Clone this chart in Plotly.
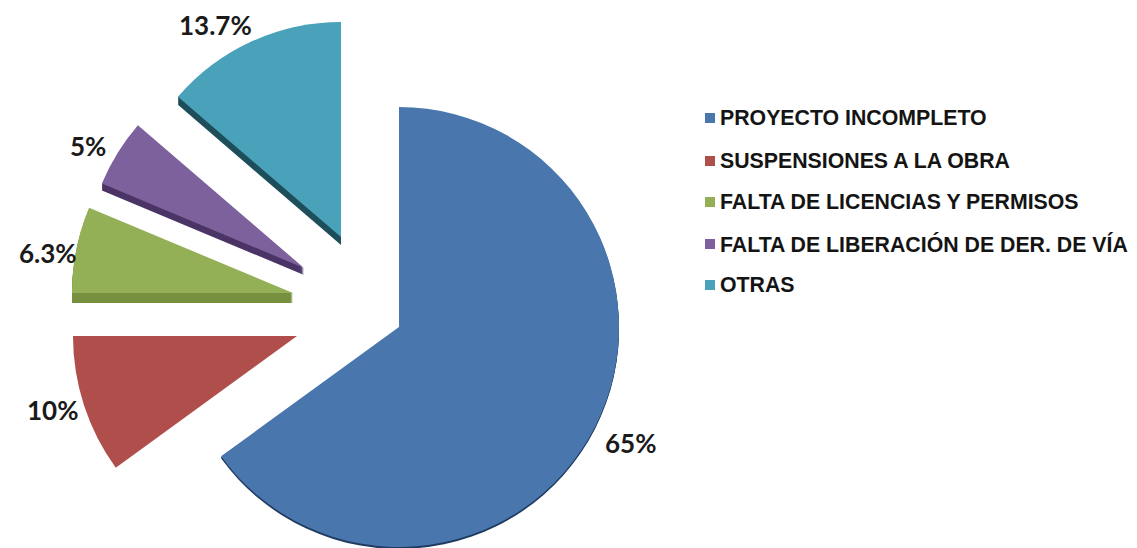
import plotly.graph_objects as go

W, H = 1137, 600

categories = ["PROYECTO INCOMPLETO", "SUSPENSIONES A LA OBRA", "FALTA DE LICENCIAS Y PERMISOS",
              "FALTA DE LIBERACIÓN DE DER. DE VÍA", "OTRAS"]
values = [65, 10, 6.3, 5, 13.7]
value_labels = ["65%", "10%", "6.3%", "5%", "13.7%"]

colors = ["#4A76AE", "#B04E4C", "#93B057", "#7D619C", "#4AA2BA"]
side_colors = ["#1F3B60", "#B04E4C", "#76903F", "#4B3566", "#1F4F5C"]
depths = [2, 0, 10, 7, 8]
centers = [(399, 327), (297, 336), (293, 293), (304, 268), (341, 237)]
radii = [220, 224, 221, 219, 215]
label_pos = [(630, 443), (52, 410), (48, 253), (88, 146), (215, 25)]
legend_y = [118, 161, 202, 244, 285]


def wedge(value, start, cx, cy, r, color, name):
    return go.Pie(
        values=[value, sum(values) - value],
        labels=[name, "resto"],
        sort=False,
        direction="clockwise",
        rotation=start,
        marker=dict(colors=[color, "rgba(0,0,0,0)"], line=dict(width=0)),
        textinfo="none",
        hoverinfo="skip",
        showlegend=False,
        domain=dict(x=[(cx - r) / W, (cx + r) / W],
                    y=[1 - (cy + r) / H, 1 - (cy - r) / H]),
    )


fig = go.Figure()
start = 0.0
starts = []
for v in values:
    starts.append(start)
    start += v / sum(values) * 360

for i, v in enumerate(values):
    cx, cy = centers[i]
    for d in range(depths[i], 0, -1):
        fig.add_trace(wedge(v, starts[i], cx, cy + d, radii[i], side_colors[i], categories[i]))
for i, v in enumerate(values):
    cx, cy = centers[i]
    fig.add_trace(wedge(v, starts[i], cx, cy, radii[i], colors[i], categories[i]))

annotations = []
shapes = []
for i, text in enumerate(value_labels):
    x, y = label_pos[i]
    annotations.append(dict(x=x / W, y=1 - y / H, xref="paper", yref="paper", text=text, showarrow=False,
                            xanchor="center", yanchor="middle",
                            font=dict(family="Lato", size=26, color="#1a1a1a", weight="bold")))
for i, name in enumerate(categories):
    y = legend_y[i]
    annotations.append(dict(x=718 / W, y=1 - y / H, xref="paper", yref="paper", text=name, showarrow=False,
                            xanchor="left", yanchor="middle",
                            font=dict(family="Liberation Sans", size=21.3, color="#141414", weight="bold")))
    shapes.append(dict(type="rect", xref="paper", yref="paper", x0=705 / W, x1=715 / W,
                       y0=1 - (y + 5) / H, y1=1 - (y - 5) / H, fillcolor=colors[i], line=dict(width=0)))

fig.update_layout(width=W, height=H, margin=dict(l=0, r=0, t=0, b=0), paper_bgcolor="white",
                  annotations=annotations, shapes=shapes, showlegend=False)
fig.write_html("out.html", config=dict(displayModeBar=False), post_script=(
    "document.body.style.margin='0';"
    "document.body.style.overflow='hidden';"
    "document.documentElement.style.overflow='hidden';"))
